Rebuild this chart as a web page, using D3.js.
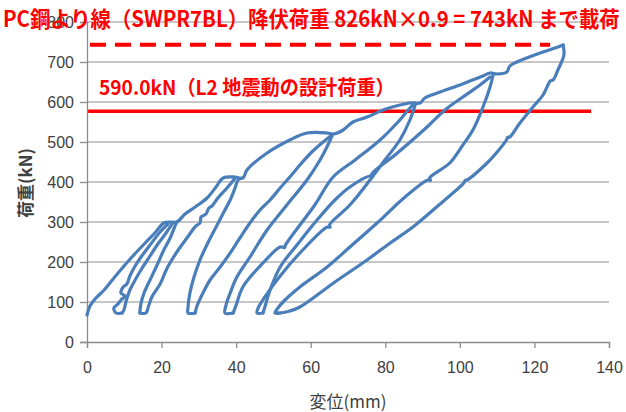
<!DOCTYPE html>
<html>
<head>
<meta charset="utf-8">
<script src="https://cdn.jsdelivr.net/npm/d3@7"></script>
<style>
  body { margin: 0; background: #fff; }
  .tick text { font-family: "Liberation Sans", Arial, sans-serif; font-size: 16px; fill: #404040; }
</style>
</head>
<body>
<svg id="chart" width="626" height="412"></svg>
<script>
/*
 * DATA - displacement (mm) vs load (kN).
 * Each array is one stroke of the hysteresis trace.
 */
const xTicks = [0, 20, 40, 60, 80, 100, 120, 140];
const yTicks = [0, 100, 200, 300, 400, 500, 600, 700, 800];

const titleText  = "PC鋼より線（SWPR7BL）降伏荷重 826kN×0.9 = 743kN まで載荷";
const designText = "590.0kN（L2 地震動の設計荷重）";
const yieldLoad  = 743;   // dashed line
const designLoad = 577;   // solid line, as drawn in the source
const yieldLine  = [0.8, 124.2];
const designLine = [0.3, 135.2];

// outer loading path, origin -> 743kN
const envelope = [
  [0,67.5],[0.8,90],[2.4,110],[4.6,130],[7.0,157.5],[9.7,187.5],[12.3,215],[15.6,247.5],
  [18.2,272.5],[20.6,297.5],[22.3,300],[24.1,300],[26.3,320],[29.0,337.5],[32.2,360],
  [34.6,387.5],[36.5,410],[39.7,412.5],[41.8,410],[42.9,430],[48.3,472.5],[54.4,505],
  [59.0,522.5],[64.4,522.5],[66.0,520],[68.7,530],[71.3,550],[75.1,562.5],[79.4,580],
  [83.9,592.5],[86.6,597.5],[89.3,597.5],[90.6,610],[94.7,625],[99.2,640],[102.7,652.5],
  [106.2,665],[108.1,672.5],[110.0,670],[112.6,675],[113.4,690],[115.3,700],[121.5,722.5],
  [125.5,735],[127.7,742.5]
];

const loop1Left = [
  [21.7,295],[19.6,275],[16.9,242.5],[14.5,212.5],[12.9,190],[11.5,165],[10.7,145],[9.7,137.5],
  [9.1,122.5],[10.2,115],[9.1,105],[8.3,95],[7.2,85],[7.8,72.5],[9.4,72.5]
];
const loop1Right = [
  [9.4,72.5],[9.9,80],[10.5,102.5],[11.5,130],[12.9,155],[14.8,185],[16.9,215],[19.0,245],
  [21.2,272.5],[22.8,295]
];
const loop2Left = [
  [14.2,72.5],[14.2,77.5],[14.5,97.5],[15.3,122.5],[16.9,155],[18.8,192.5],[20.6,230],
  [22.3,260],[23.6,290],[24.1,300]
];
const loop2Right = [
  [14.2,72.5],[15.8,72.5],[16.6,92.5],[17.4,112.5],[19.6,145],[21.5,185],[24.1,225],[26.8,260],
  [29.2,290],[30.3,297.5],[30.6,312.5],[31.9,320],[32.7,335],[33.5,340],[35.1,360],[37.3,382.5],
  [38.9,400],[39.7,410]
];
const loop3Left = [
  [29.0,72.5],[27.1,72.5],[27.1,87.5],[27.6,122.5],[28.7,162.5],[30.3,205],[32.4,247.5],
  [34.9,292.5],[36.7,325],[38.4,355],[39.7,385],[40.5,405],[41.6,410]
];
const loop3Right = [
  [29.0,72.5],[29.5,90],[31.1,122.5],[33.0,155],[35.7,187.5],[38.4,222.5],[41.0,260],
  [43.7,297.5],[46.4,330],[49.1,355],[51.8,385],[54.4,412.5],[57.1,442.5],[60.3,475],
  [63.0,497.5],[65.7,517.5]
];
const loop4Left = [
  [39.2,72.5],[37.0,72.5],[37.3,92.5],[38.4,122.5],[40.2,162.5],[43.7,212.5],[48.3,280],
  [53.6,342.5],[59.0,405],[62.5,455],[64.6,492.5],[65.7,515]
];
const loop4Right = [
  [39.2,72.5],[40.0,92.5],[41.8,137.5],[47.2,197.5],[51.8,237.5],[53.0,236],[53.2,242],
  [57.1,292.5],[61.1,342.5],[66.0,412.5],[71.9,455],[78.6,505],[83.4,550],[86.6,585],[88.0,597.5]
];
const loop5Left = [
  [47.2,72.5],[45.6,72.5],[45.9,85],[47.7,112.5],[51.8,165],[57.1,222.5],[64.4,287.5],
  [65.2,287],[65.0,292],[70.5,342.5],[75.9,405],[79.9,455],[83.9,505],[86.6,555],[88.0,592.5]
];
const loop5Right = [
  [47.2,72.5],[47.7,87.5],[49.1,130],[51.8,187.5],[56.3,242.5],[61.7,305],[66.5,355],
  [70.5,387.5],[75.9,415],[76.6,413],[76.4,420],[82.6,467.5],[91.2,537.5],[96.0,580],
  [100.8,612.5],[105.4,642.5],[108.1,662.5]
];
const loop6Left = [
  [51.8,72.5],[50.4,72.5],[51.0,82.5],[53.1,105],[57.1,137.5],[64.4,187.5],[70.5,237.5],
  [77.8,297.5],[85.3,362.5],[91.4,405],[92.1,404],[91.9,410],[97.3,447.5],[100.8,492.5],
  [103.5,530],[106.2,587.5],[108.1,637.5],[108.9,667.5]
];
// last unloading from 743kN
const finalUnload = [
  [127.7,742.5],[127.9,717.5],[126.3,680],[125.0,655],[124.3,653],[123.9,648],[122.3,617.5],
  [119.6,587.5],[116.1,547.5],[113.4,512.5],[112.8,512],[112.5,505],[110.0,475],[107.3,447.5],
  [101.9,405],[101.4,404],[101.1,398],[94.7,345],[87.4,287.5],[81.3,247.5],[75.1,205],
  [66.5,150],[57.1,87.5],[54.4,77.5],[51.8,72.5],[50.7,72.5]
];

const strokes = [envelope, loop1Left, loop1Right, loop2Left, loop2Right, loop3Left, loop3Right,
                 loop4Left, loop4Right, loop5Left, loop5Right, loop6Left, finalUnload];

/*
 * CHART
 */
const svg = d3.select("#chart");
const graph_x = d3.scaleLinear().domain([0, 140]).range([87, 609]);
const graph_y = d3.scaleLinear().domain([0, 800]).range([342, 22]);

// horizontal gridlines
svg.append("g").selectAll("line")
  .data(yTicks.filter(function(d){ return d > 0; }))
  .join("line")
  .attr("x1", graph_x(0)).attr("x2", graph_x(140))
  .attr("y1", function(d){ return graph_y(d); })
  .attr("y2", function(d){ return graph_y(d); })
  .style("stroke", "#b4b4b4").style("stroke-width", "1.3px");

// axes
const yAxis = svg.append("g")
  .attr("transform", "translate(" + graph_x(0) + ",0)")
  .call(d3.axisLeft(graph_y).tickValues(yTicks).tickSize(7).tickPadding(6));
const xAxis = svg.append("g")
  .attr("transform", "translate(0," + graph_y(0) + ")")
  .call(d3.axisBottom(graph_x).tickValues(xTicks).tickSize(6).tickPadding(14));
[yAxis, xAxis].forEach(function(a){
  a.select(".domain").style("stroke", "#8c8c8c").style("stroke-width", "1.3px");
  a.selectAll(".tick line").style("stroke", "#8c8c8c").style("stroke-width", "1.3px");
});
yAxis.selectAll(".tick text").attr("dy", "0.36em");

// axis titles
svg.append("text")
  .attr("x", 348).attr("y", 408)
  .attr("text-anchor", "middle")
  .style("font-family", "'Noto Sans CJK JP', sans-serif").style("font-size", "17px").style("fill", "#404040")
  .text("変位(mm)");
svg.append("text")
  .attr("transform", "translate(32,183) rotate(-90)")
  .attr("text-anchor", "middle")
  .style("font-family", "'Noto Sans CJK JP', sans-serif").style("font-size", "17px")
  .style("font-weight", "bold").style("fill", "#404040")
  .text("荷重(kN)");

// red reference lines
svg.append("line")
  .attr("x1", graph_x(yieldLine[0])).attr("x2", graph_x(yieldLine[1]))
  .attr("y1", graph_y(yieldLoad)).attr("y2", graph_y(yieldLoad))
  .style("stroke", "#ff0000").style("stroke-width", "4px").style("stroke-dasharray", "16,9");
svg.append("line")
  .attr("x1", graph_x(designLine[0])).attr("x2", graph_x(designLine[1]))
  .attr("y1", graph_y(designLoad)).attr("y2", graph_y(designLoad))
  .style("stroke", "#ff0000").style("stroke-width", "3.5px");

// hysteresis trace
const line = d3.line()
  .curve(d3.curveCatmullRom.alpha(0.5))
  .x(function(d){ return graph_x(d[0]); })
  .y(function(d){ return graph_y(d[1]); });
svg.append("g").selectAll("path")
  .data(strokes)
  .join("path")
  .attr("d", line)
  .style("fill", "none")
  .style("stroke", "#4a7ebb")
  .style("stroke-width", "3.2px")
  .style("stroke-linejoin", "round")
  .style("stroke-linecap", "round");

/*
 * fit_text - squeeze a red label horizontally into a given width (condensed look).
 */
function fit_text(x, y, size, width, text){
  const t = svg.append("text")
    .attr("x", 0).attr("y", 0)
    .style("font-family", "'Noto Sans CJK JP', sans-serif").style("font-size", size + "px")
    .style("font-weight", "bold").style("fill", "#ff0000")
    .text(text);
  const sx = width / t.node().getComputedTextLength();
  t.attr("transform", "translate(" + x + "," + y + ") scale(" + sx + ",1)");
}
fit_text(3, 27, 22, 617, titleText);
fit_text(99, 95, 20, 296, designText);
</script>
</body>
</html>
